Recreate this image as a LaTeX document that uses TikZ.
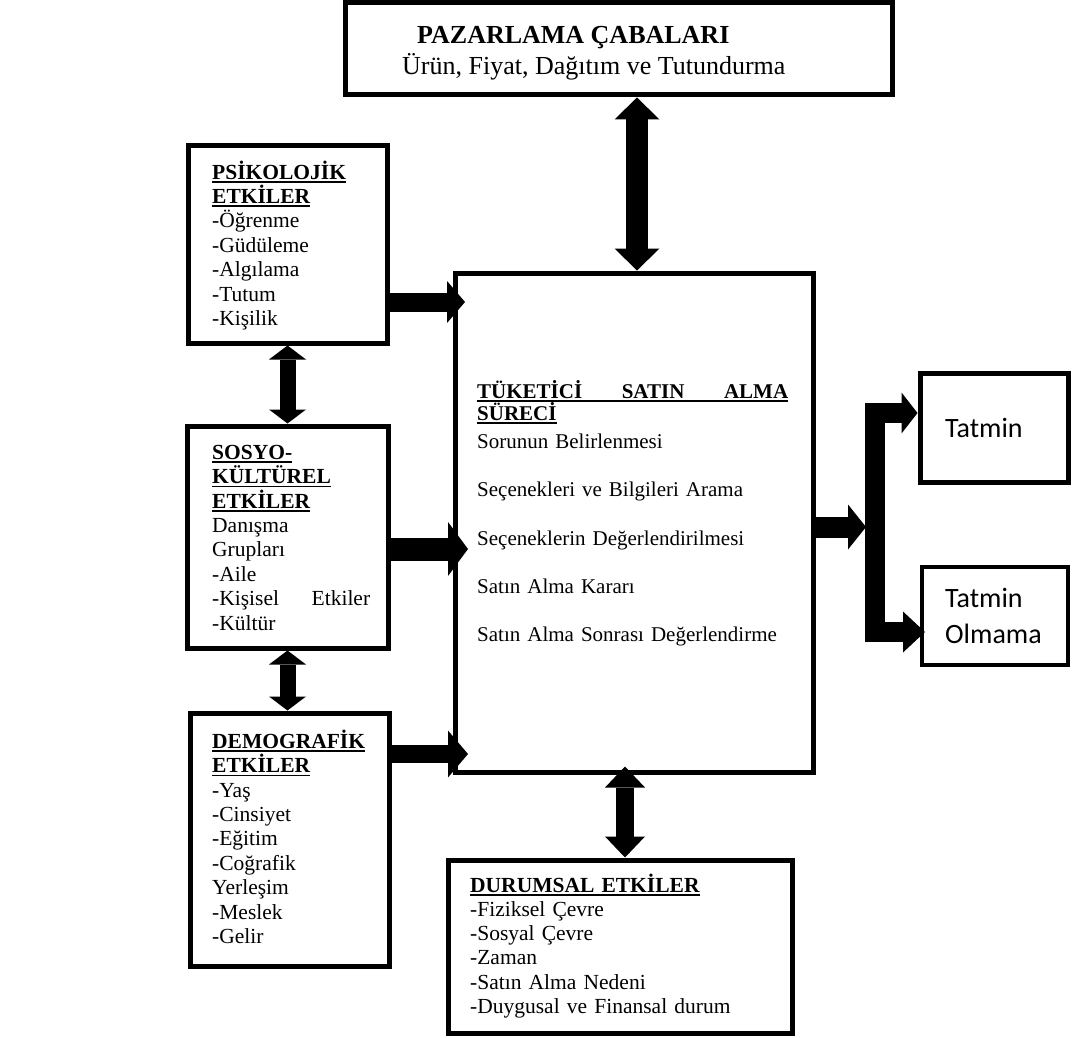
\documentclass[tikz,border=0pt]{standalone}
\usepackage{fontspec}
\setmainfont{Liberation Serif}
\newfontfamily\calfont{Carlito}
\usetikzlibrary{arrows.meta}
\newcommand\uln[1]{\leavevmode\setbox0\hbox{#1}\rlap{\rule[-3.5pt]{\wd0}{1.6pt}}\box0}
\newcommand\fst{\rule{0pt}{20pt}}
\lineskiplimit=-50pt
\begin{document}
\begin{tikzpicture}[x=1pt,y=-1pt,
  box/.style={draw=black, line width=5pt, fill=white, inner sep=0pt},
  txt/.style={inner sep=0pt, anchor=north west, align=left, text width=#1},
  body/.style={font=\fontsize{21.5}{24.4}\selectfont},
  fat/.style={draw=black, line width=#1, line cap=butt, line join=miter}]
\useasboundingbox (0,0) rectangle (1072,1038);
\fill[white] (0,0) rectangle (1072,1038);

% boxes
\node[box, minimum width=547pt, minimum height=92pt] (pz) at (618.5,49) {};
\node[box, minimum width=199pt, minimum height=197pt] (psi) at (287.5,244.5) {};
\node[box, minimum width=201pt, minimum height=222pt] (sos) at (287.5,537) {};
\node[box, minimum width=199pt, minimum height=253pt] (dem) at (289.5,839.5) {};
\node[box, minimum width=358pt, minimum height=499pt] (cen) at (634,522.5) {};
\node[box, minimum width=344pt, minimum height=173pt] (dur) at (620,946.5) {};
\node[box, minimum width=148pt, minimum height=109pt] (tat) at (994,427.5) {};
\node[box, line width=4pt, minimum width=146pt, minimum height=98pt] (olm) at (995,616) {};

% texts
\node[inner sep=0pt, anchor=north west, font=\fontsize{26}{31}\selectfont\bfseries] (pzT) at (417,19) {\rule{0pt}{24pt}PAZARLAMA ÇABALARI};
\node[inner sep=0pt, anchor=north west, font=\fontsize{26}{31}\selectfont] (pzS) at (402,50) {\rule{0pt}{24pt}Ürün, Fiyat, Dağıtım ve Tutundurma};

\node[txt=170pt, body] (psiT) at (212,159) {\fst\uln{\textbf{PSİKOLOJİK}}\\\uln{\textbf{ETKİLER}}\\-Öğrenme\\-Güdüleme\\-Algılama\\-Tutum\\-Kişilik};

\node[txt=170pt, body] (sosT) at (212,439) {\fst\uln{\textbf{SOSYO-}}\\\uln{\textbf{KÜLTÜREL}}\\\uln{\textbf{ETKİLER}}\\Danışma\\Grupları\\-Aile\\\leavevmode\hbox to 158pt{-Kişisel\hfill Etkiler}\\-Kültür};

\node[txt=170pt, body] (demT) at (212,728) {\fst\uln{\textbf{DEMOGRAFİK}}\\\uln{\textbf{ETKİLER}}\\-Yaş\\-Cinsiyet\\-Eğitim\\-Coğrafik\\Yerleşim\\-Meslek\\-Gelir};

\node[txt=310pt, font=\fontsize{21.5}{24.2}\selectfont] (durT) at (470,872) {\fst\uln{\textbf{DURUMSAL ETKİLER}}\\-Fiziksel Çevre\\-Sosyal Çevre\\-Zaman\\-Satın Alma Nedeni\\-Duygusal ve Finansal durum};

\node[txt=311pt, font=\fontsize{21}{22}\selectfont] (cenH) at (477,378) {\fst\uln{\hbox to 311pt{\bfseries TÜKETİCİ\hfill SATIN\hfill ALMA}}\\\uln{\textbf{SÜRECİ}}};
\node[txt=320pt, font=\fontsize{21}{48.4}\selectfont] (cenL) at (477,428) {\fst Sorunun Belirlenmesi\\Seçenekleri ve Bilgileri Arama\\Seçeneklerin Değerlendirilmesi\\Satın Alma Kararı\\Satın Alma Sonrası Değerlendirme};

\node[txt=120pt, font=\calfont\fontsize{28}{36}\selectfont] (tatT) at (945,413) {\rule{0pt}{24pt}Tatmin};
\node[txt=120pt, font=\calfont\fontsize{28}{36}\selectfont] (olmT) at (945,583) {\rule{0pt}{24pt}Tatmin\\Olmama};

% lanes
\coordinate (lT) at (637,0);
\coordinate (lB) at (625,0);
\coordinate (lL) at (287.5,0);
\coordinate (rP) at (0,302);
\coordinate (rS) at (0,549);
\coordinate (rD) at (0,754);
\coordinate (rR) at (0,527);
\coordinate (rTa) at (0,413);
\coordinate (rOl) at (0,632);
\coordinate (split) at (866,527);
\coordinate (bk1) at (874.5,413);
\coordinate (bk2) at (874.5,632);

% arrows
\draw[fat=22pt, {Triangle[length=22pt,width=45pt,line width=0pt]}-{Triangle[length=22pt,width=45pt,line width=0pt]}] (pz.south -| lT) -- (cen.north -| lT);
\draw[fat=19pt, -{Triangle[length=18pt,width=42pt,line width=0pt]}, shorten >=-12.5pt] (psi.east |- rP) -- (cen.west |- rP);
\draw[fat=23pt, -{Triangle[length=20pt,width=54pt,line width=0pt]}, shorten >=-15.5pt] (sos.east |- rS) -- (cen.west |- rS);
\draw[fat=18pt, -{Triangle[length=20pt,width=47pt,line width=0pt]}, shorten >=-15.5pt] (dem.east |- rD) -- (cen.west |- rD);
\draw[fat=16pt, {Triangle[length=14pt,width=37pt,line width=0pt]}-{Triangle[length=14pt,width=37pt,line width=0pt]}] (psi.south -| lL) -- (sos.north -| lL);
\draw[fat=16pt, {Triangle[length=14pt,width=37pt,line width=0pt]}-{Triangle[length=14pt,width=37pt,line width=0pt]}] (sos.south -| lL) -- (dem.north -| lL);
\draw[fat=18pt, {Triangle[length=21pt,width=40pt,line width=0pt]}-{Triangle[length=21pt,width=40pt,line width=0pt]}, shorten <=-8pt] (cen.south -| lB) -- (dur.north -| lB);
\draw[fat=21pt, -{Triangle[length=18pt,width=45pt,line width=0pt]}] (cen.east |- rR) -- (split);
\draw[fat=20pt, {Triangle[length=16pt,width=41pt,line width=0pt]}-{Triangle[length=22pt,width=41pt,line width=0pt]}, shorten >=-5pt] (tat.west |- rTa) -- (bk1) -- (bk2) -- (olm.west |- rOl);
\end{tikzpicture}
\end{document}
